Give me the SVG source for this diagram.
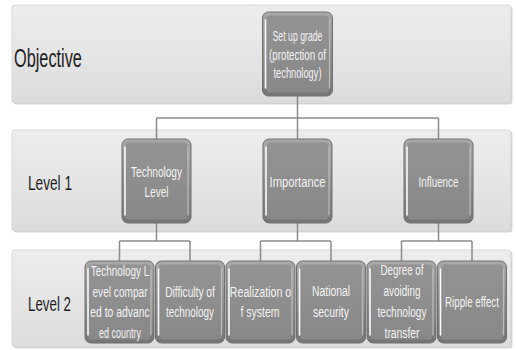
<svg xmlns="http://www.w3.org/2000/svg" width="516" height="350" viewBox="0 0 516 350">
<defs>
<linearGradient id="bandG" x1="0" y1="0" x2="0" y2="1">
<stop offset="0" stop-color="#ededed"/>
<stop offset="0.5" stop-color="#e5e5e5"/>
<stop offset="1" stop-color="#dcdcdc"/>
</linearGradient>
<linearGradient id="edgeG" x1="0" y1="0" x2="0" y2="1">
<stop offset="0" stop-color="#a9a9a9"/>
<stop offset="1" stop-color="#767676"/>
</linearGradient>
<linearGradient id="faceG" x1="0" y1="0" x2="0" y2="1">
<stop offset="0" stop-color="#939393"/>
<stop offset="1" stop-color="#888888"/>
</linearGradient>
</defs>
<style>
.band{fill:url(#bandG);stroke:#d2d2d2;stroke-width:0.8}
.bshadow{fill:#d6d6d6}
.outer{fill:url(#edgeG);stroke:#707070;stroke-width:1}
.face{fill:url(#faceG)}
.hl{stroke:#fafafa;stroke-width:1.6;stroke-linecap:round;fill:none}
.hr{stroke:#bdbdbd;stroke-width:1.2;stroke-linecap:round;fill:none}
.nt{font-family:"Liberation Sans",Arial,sans-serif;font-size:15.5px;fill:#f3f3f3;text-anchor:middle}
.lbl{font-family:"Liberation Sans",Arial,sans-serif;fill:#1e1e1e}
.conn{stroke:#8c8c8c;stroke-width:1.5;fill:none}
</style>
<rect width="516" height="350" fill="#ffffff"/>
<g id="bands">
<rect class="bshadow" x="13.5" y="6.5" width="499" height="98" rx="3"/>
<rect class="band" x="12" y="5" width="499" height="98" rx="3"/>
<rect class="bshadow" x="13.5" y="131.5" width="499" height="101" rx="3"/>
<rect class="band" x="12" y="130" width="499" height="101" rx="3"/>
<rect class="bshadow" x="13.5" y="251.5" width="499" height="97" rx="3"/>
<rect class="band" x="12" y="250" width="499" height="97" rx="3"/>
<text class="lbl" font-size="26" transform="translate(14,67) scale(0.627,1)">Objective</text>
<text class="lbl" font-size="21" transform="translate(28,190) scale(0.65,1)">Level 1</text>
<text class="lbl" font-size="21" transform="translate(28,311) scale(0.635,1)">Level 2</text>
</g>
<g id="connectors">
<path class="conn" d="M297.5,96 V118 M156.5,118 H438.5 M156.5,118 V139 M297.5,118 V139 M438.5,118 V139"/>
<path class="conn" d="M156.5,223 V241 M119.5,241 H190 M119.5,241 V261 M190,241 V261"/>
<path class="conn" d="M297.5,223 V241 M260.5,241 H331 M260.5,241 V261 M331,241 V261"/>
<path class="conn" d="M438.5,223 V241 M401.5,241 H472 M401.5,241 V261 M472,241 V261"/>
</g>
<g id="objective">
<rect class="outer" x="262.5" y="12" width="70" height="84" rx="6"/>
<rect class="face" x="266" y="15.5" width="63" height="77" rx="4"/>
<path class="hl" d="M265.5,20 V88"/><path class="hr" d="M329.5,20 V88"/>
<text class="nt" transform="translate(297.5,41) scale(0.563,1)">Set up grade</text>
<text class="nt" transform="translate(297.5,59.5) scale(0.63,1)">(protection of</text>
<text class="nt" transform="translate(297.5,78) scale(0.599,1)">technology)</text>
</g>
<g id="tech-level">
<rect class="outer" x="122" y="139" width="69" height="84" rx="6"/>
<rect class="face" x="125.5" y="142.5" width="62" height="77" rx="4"/>
<path class="hl" d="M125,147 V215"/><path class="hr" d="M188,147 V215"/>
<text class="nt" transform="translate(156.5,177) scale(0.649,1)">Technology</text>
<text class="nt" transform="translate(156.5,196.5) scale(0.648,1)">Level</text>
</g>
<g id="importance">
<rect class="outer" x="263" y="139" width="69" height="84" rx="6"/>
<rect class="face" x="266.5" y="142.5" width="62" height="77" rx="4"/>
<path class="hl" d="M266,147 V215"/><path class="hr" d="M329,147 V215"/>
<text class="nt" transform="translate(297.5,187) scale(0.722,1)">Importance</text>
</g>
<g id="influence">
<rect class="outer" x="404" y="139" width="69" height="84" rx="6"/>
<rect class="face" x="407.5" y="142.5" width="62" height="77" rx="4"/>
<path class="hl" d="M407,147 V215"/><path class="hr" d="M470,147 V215"/>
<text class="nt" transform="translate(438.5,187) scale(0.636,1)">Influence</text>
</g>
<g id="tech-compared">
<rect class="outer" x="85" y="261" width="69" height="82" rx="6"/>
<rect class="face" x="88.5" y="264.5" width="62" height="75" rx="4"/>
<path class="hl" d="M88,269 V335"/><path class="hr" d="M151,269 V335"/>
<text class="nt" transform="translate(120,276) scale(0.64,1)">Technology L</text>
<text class="nt" transform="translate(120,296.5) scale(0.652,1)">evel compar</text>
<text class="nt" transform="translate(120,317) scale(0.67,1)">ed to advanc</text>
<text class="nt" transform="translate(120,338) scale(0.58,1)">ed country</text>
</g>
<g id="difficulty">
<rect class="outer" x="155.5" y="261" width="69" height="82" rx="6"/>
<rect class="face" x="159" y="264.5" width="62" height="75" rx="4"/>
<path class="hl" d="M158.5,269 V335"/><path class="hr" d="M221.5,269 V335"/>
<text class="nt" transform="translate(190,297) scale(0.659,1)">Difficulty of</text>
<text class="nt" transform="translate(190,317) scale(0.64,1)">technology</text>
</g>
<g id="realization">
<rect class="outer" x="226" y="261" width="69" height="82" rx="6"/>
<rect class="face" x="229.5" y="264.5" width="62" height="75" rx="4"/>
<path class="hl" d="M229,269 V335"/><path class="hr" d="M292,269 V335"/>
<text class="nt" transform="translate(260.5,297) scale(0.685,1)">Realization o</text>
<text class="nt" transform="translate(260,317) scale(0.676,1)">f system</text>
</g>
<g id="national-security">
<rect class="outer" x="296.5" y="261" width="69" height="82" rx="6"/>
<rect class="face" x="300" y="264.5" width="62" height="75" rx="4"/>
<path class="hl" d="M299.5,269 V335"/><path class="hr" d="M362.5,269 V335"/>
<text class="nt" transform="translate(331,296) scale(0.668,1)">National</text>
<text class="nt" transform="translate(331,316.5) scale(0.674,1)">security</text>
</g>
<g id="avoiding-transfer">
<rect class="outer" x="367" y="261" width="69" height="82" rx="6"/>
<rect class="face" x="370.5" y="264.5" width="62" height="75" rx="4"/>
<path class="hl" d="M370,269 V335"/><path class="hr" d="M433,269 V335"/>
<text class="nt" transform="translate(402,274.5) scale(0.632,1)">Degree of</text>
<text class="nt" transform="translate(402,295.5) scale(0.641,1)">avoiding</text>
<text class="nt" transform="translate(402,316.5) scale(0.654,1)">technology</text>
<text class="nt" transform="translate(402,337.5) scale(0.666,1)">transfer</text>
</g>
<g id="ripple-effect">
<rect class="outer" x="437.5" y="261" width="69" height="82" rx="6"/>
<rect class="face" x="441" y="264.5" width="62" height="75" rx="4"/>
<path class="hl" d="M440.5,269 V335"/><path class="hr" d="M503.5,269 V335"/>
<text class="nt" transform="translate(472,307) scale(0.627,1)">Ripple effect</text>
</g>
</svg>
